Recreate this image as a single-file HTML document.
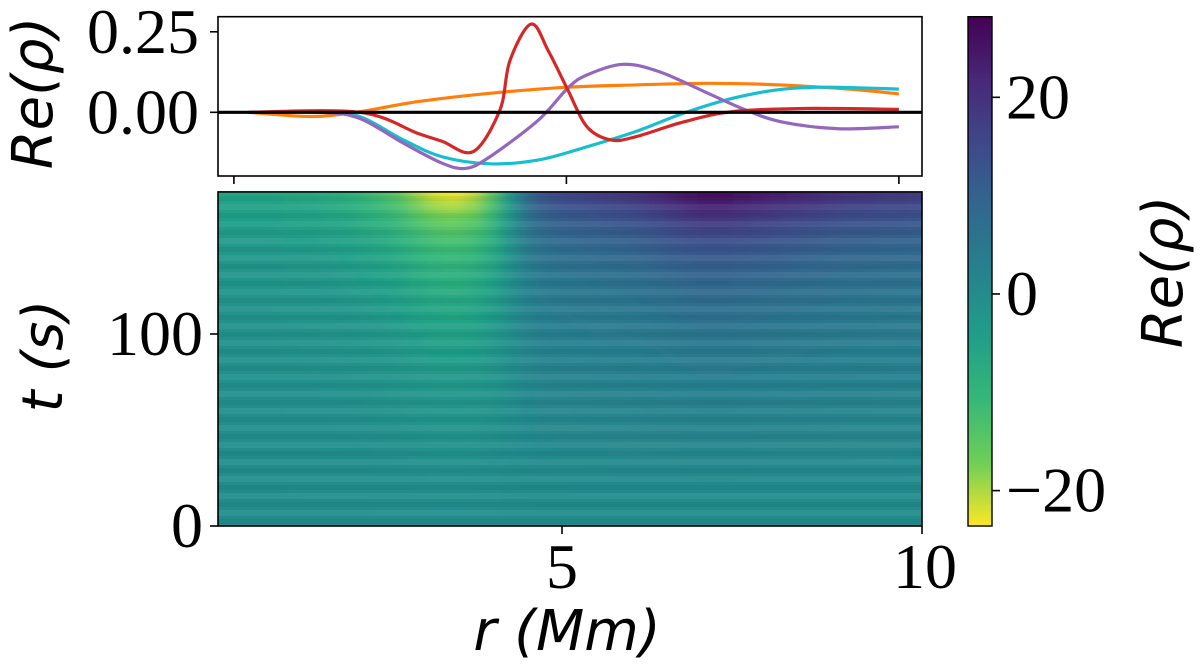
<!DOCTYPE html>
<html><head><meta charset="utf-8"><style>
html,body{margin:0;padding:0;background:#fff;}
svg{display:block;}
.tk{font-family:"Liberation Serif",serif;font-size:64px;fill:#000;}
.al{font-family:"DejaVu Sans",sans-serif;font-style:italic;font-size:56px;fill:#000;}
</style></head><body>
<svg id="fig" width="1200" height="671" viewBox="0 0 1200 671" xmlns="http://www.w3.org/2000/svg">
<defs>
<clipPath id="topclip"><rect x="218" y="16.7" width="704" height="159.3"/></clipPath>
<clipPath id="heatclip"><rect x="218" y="191.9" width="704" height="334.1"/></clipPath>
<filter id="hblur" x="-5%" y="0" width="110%" height="100%"><feGaussianBlur stdDeviation="7 0"/></filter>
<linearGradient id="cbgrad" x1="0" y1="0" x2="0" y2="1">
<stop offset="0" stop-color="#440154"/><stop offset="0.125" stop-color="#482878"/><stop offset="0.25" stop-color="#3e4989"/><stop offset="0.375" stop-color="#31688e"/><stop offset="0.5" stop-color="#26828e"/><stop offset="0.625" stop-color="#1f9e89"/><stop offset="0.75" stop-color="#35b779"/><stop offset="0.875" stop-color="#6ece58"/><stop offset="1" stop-color="#fde725"/>
</linearGradient>
<pattern id="stripes" width="10" height="17" patternUnits="userSpaceOnUse">
<rect width="10" height="6" y="0" fill="#ffffff" opacity="0.06"/><rect width="10" height="5" y="9" fill="#000" opacity="0.05"/>
</pattern>
</defs>
<g id="topPanel"></g>
<g id="heat"></g>
<g id="cbar"></g>
</svg>
<script>
// ---- line panel data ----
const redR=[0.22,1.89,2.76,3.13,3.6,4.0,4.15,4.47,4.73,5.02,5.31,5.67,6.04,6.76,7.49,8.58,10];
const redV=[0,0,-0.065,-0.09,-0.122,0.007,0.16,0.274,0.19,0.07,-0.045,-0.086,-0.076,-0.03,0.002,0.012,0.009];
const purR=[0.22,1.31,1.89,2.55,3.13,3.49,3.85,4.58,5.02,5.31,5.85,6.4,7.13,7.64,8.22,9.09,10];
const purV=[0,0,-0.019,-0.096,-0.158,-0.174,-0.138,-0.024,0.075,0.116,0.149,0.126,0.059,0.012,-0.029,-0.051,-0.045];
const cyaR=[0.22,1.31,1.89,2.55,3.13,3.85,4.58,5.31,6.04,6.76,7.49,8.22,8.95,10];
const cyaV=[0,0,-0.013,-0.086,-0.138,-0.16,-0.148,-0.107,-0.06,-0.003,0.043,0.071,0.078,0.072];
const orgR=[0.22,1.16,1.89,2.76,3.85,5.02,6.04,7.13,8.22,9.31,10];
const orgV=[0,-0.013,0.002,0.033,0.059,0.078,0.085,0.09,0.085,0.071,0.057];
const topYTicks=[0.25,0.0];
const topYLabels=["0.25","0.00"];
const xTicks=[0,5,10];
// ---- heatmap data ----
const heatR=[0.25,0.5,0.75,1,1.25,1.5,1.75,2,2.25,2.5,2.75,3,3.25,3.5,3.75,4,4.25,4.5,4.75,5,5.25,5.5,5.75,6,6.25,6.5,6.75,7,7.25,7.5,7.75,8,8.25,8.5,8.75,9,9.25,9.5,9.75,10];
const heatAmp=[-6,-6,-6,-6,-7,-7,-8,-9,-11,-13,-16,-20,-23,-24,-22,-16,-4,8,14,16,17,18,19,20,22,24,26,27,27,26,25,24,23,22,21,20,20,19,19,18];
const heatT=[0,10,20,30,40,50,60,70,80,90,100,110,120,130,140,150,160,170,174];
const heatGrowth=[0,0.01,0.02,0.03,0.05,0.07,0.09,0.11,0.14,0.17,0.21,0.25,0.3,0.36,0.44,0.55,0.7,0.9,1.0];
const heatXTicks=[5,10];
const heatYTicks=[0,100];
const cbTicks=[20,0,-20];
const cbLabels=["20","0","\u221220"];

const NS="http://www.w3.org/2000/svg";
function mk(tag,attrs,parent){const e=document.createElementNS(NS,tag);for(const k in attrs)e.setAttribute(k,attrs[k]);parent.appendChild(e);return e;}
const xs=r=>233.9+66.5*r, ys=v=>112.3-322*v;
const xh=r=>202+72*r, yh=t=>526-1.92*t;
const cbMax=28.2, cbMin=-23.6, cbTop=16.7, cbBot=526;
const ycb=v=>cbTop+(cbMax-v)/(cbMax-cbMin)*(cbBot-cbTop);
const vir=[[68,1,84],[72,40,120],[62,73,137],[49,104,142],[38,130,142],[31,158,137],[53,183,121],[110,206,88],[253,231,37]];
function cmap(v){let f=(cbMax-v)/(cbMax-cbMin);f=Math.max(0,Math.min(1,f));const p=f*8,i=Math.min(7,Math.floor(p)),u=p-i;const a=vir[i],b=vir[i+1];
return 'rgb('+a.map((c,k)=>Math.round(c+(b[k]-c)*u)).join(',')+')';}
function smooth(R,V){const P=R.map((r,i)=>[xs(r),ys(V[i])]);let d='M'+P[0][0]+','+P[0][1];
for(let i=0;i<P.length-1;i++){const p0=P[Math.max(0,i-1)],p1=P[i],p2=P[i+1],p3=P[Math.min(P.length-1,i+2)];
const c1=[p1[0]+(p2[0]-p0[0])/6,p1[1]+(p2[1]-p0[1])/6],c2=[p2[0]-(p3[0]-p1[0])/6,p2[1]-(p3[1]-p1[1])/6];
d+=' C'+c1[0]+','+c1[1]+' '+c2[0]+','+c2[1]+' '+p2[0]+','+p2[1];}return d;}

// top panel
const topG=document.getElementById('topPanel');
const lines=[[orgR,orgV,'#ff7f0e','orange-line'],[cyaR,cyaV,'#17becf','cyan-line'],[purR,purV,'#9467bd','purple-line'],[redR,redV,'#d62728','red-line']];
const lg=mk('g',{'clip-path':'url(#topclip)'},topG);
lines.forEach(L=>{const p=mk('path',{d:smooth(L[0],L[1]),fill:'none',stroke:L[2],'stroke-width':3.2},lg);

});
const zl=mk('line',{x1:218,x2:922,y1:ys(0),y2:ys(0),stroke:'#000','stroke-width':3.2},topG);


const tf=mk('rect',{x:218,y:16.7,width:704,height:159.3,fill:'none',stroke:'#000','stroke-width':1.6},topG);


topYTicks.forEach((v,i)=>{mk('line',{x1:210,x2:218,y1:ys(v),y2:ys(v),stroke:'#000','stroke-width':1.6},topG);
const t=mk('text',{x:199,y:ys(v)+21,'text-anchor':'end',class:'tk'},topG);t.textContent=topYLabels[i];

});
xTicks.forEach(r=>{mk('line',{x1:xs(r),x2:xs(r),y1:176,y2:184,stroke:'#000','stroke-width':1.6},topG);});
const yl1=mk('text',{x:0,y:0,class:'al','text-anchor':'middle',transform:'translate(52,93) rotate(-90)'},topG);yl1.textContent='Re(\u03C1)';



// heatmap
const heat=document.getElementById('heat');
const hx0=218,hx1=922;
const hclip=mk('g',{'clip-path':'url(#heatclip)'},heat);
const hcols=mk('g',{filter:'url(#hblur)'},hclip);
heatR.forEach((r,i)=>{
 const gid='col'+i;const gr=mk('linearGradient',{id:gid,x1:0,y1:1,x2:0,y2:0},document.querySelector('defs'));
 heatT.forEach((t,j)=>{mk('stop',{offset:(t/174).toFixed(4),'stop-color':cmap(heatAmp[i]*heatGrowth[j])},gr);});
 let a=xh(r-0.125),b=xh(r+0.125);if(i==0)a=hx0-30;if(i==heatR.length-1)b=hx1+30;
 const c=mk('rect',{x:a,y:yh(174),width:b-a+0.6,height:yh(0)-yh(174),fill:'url(#'+gid+')'},hcols);
 
 
});
mk('rect',{x:hx0,y:yh(174),width:hx1-hx0,height:yh(0)-yh(174),fill:'url(#stripes)'},heat);
const hf=mk('rect',{x:hx0,y:yh(174),width:hx1-hx0,height:yh(0)-yh(174),fill:'none',stroke:'#000','stroke-width':1.6},heat);


heatXTicks.forEach(r=>{mk('line',{x1:xh(r),x2:xh(r),y1:526,y2:534,stroke:'#000','stroke-width':1.6},heat);
const t=mk('text',{x:xh(r)+(r==10?3:0),y:588,'text-anchor':'middle',class:'tk'},heat);t.textContent=String(r);

});
heatYTicks.forEach(v=>{mk('line',{x1:210,x2:218,y1:yh(v),y2:yh(v),stroke:'#000','stroke-width':1.6},heat);
const t=mk('text',{x:203,y:yh(v)+21,'text-anchor':'end',class:'tk'},heat);t.textContent=String(v);

});
const yl2=mk('text',{x:0,y:0,class:'al','text-anchor':'middle',transform:'translate(62,356) rotate(-90)'},heat);yl2.textContent='t (s)';


const xl=mk('text',{x:0,y:0,class:'al','text-anchor':'middle',transform:'translate(567,650)'},heat);xl.textContent='r (Mm)';



// colorbar
const cb=document.getElementById('cbar');
const cr=mk('rect',{x:968,y:cbTop,width:24,height:cbBot-cbTop,fill:'url(#cbgrad)',stroke:'#000','stroke-width':1.4},cb);


cbTicks.forEach((v,i)=>{mk('line',{x1:992,x2:1000,y1:ycb(v),y2:ycb(v),stroke:'#000','stroke-width':1.6},cb);
const t=mk('text',{x:1006,y:ycb(v)+21,class:'tk'},cb);t.textContent=cbLabels[i];

});
const cl=mk('text',{x:0,y:0,class:'al','text-anchor':'middle',transform:'translate(1182,272) rotate(-90)'},cb);cl.textContent='Re(\u03C1)';


</script>
</body></html>
